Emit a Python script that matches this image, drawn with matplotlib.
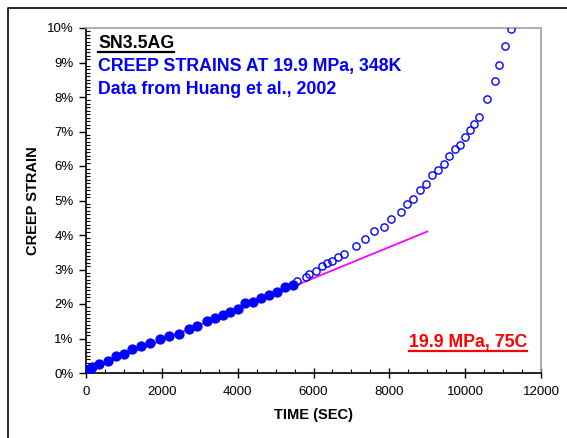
import matplotlib
matplotlib.use("Agg")
import matplotlib.pyplot as plt
from matplotlib.ticker import MultipleLocator, PercentFormatter
from matplotlib.lines import Line2D
import numpy as np

plt.rcParams['font.family'] = ['Liberation Sans', 'DejaVu Sans']

# creep data (time in sec, strain in %)
t_filled = [0, 50, 100, 150, 343, 572, 783, 1010, 1214, 1442, 1696, 1960, 2197,
            2453, 2708, 2919, 3182, 3402, 3613, 3805, 4017, 4201, 4412, 4623,
            4826, 5028, 5239, 5450]
s_filled = [0.0, 0.08, 0.13, 0.18, 0.26, 0.36, 0.49, 0.56, 0.69, 0.79, 0.88, 0.98,
            1.06, 1.12, 1.28, 1.37, 1.50, 1.59, 1.68, 1.76, 1.86, 2.04, 2.07, 2.16,
            2.25, 2.36, 2.48, 2.55]
t_open = [5557, 5802, 5881, 6066, 6216, 6348, 6496, 6655, 6797, 7129, 7367, 7604,
          7860, 8044, 8300, 8466, 8633, 8800, 8958, 9130, 9289, 9447, 9579, 9737,
          9853, 10001, 10133, 10233, 10356, 10575, 10795, 10901, 11060, 11200]
s_open = [2.67, 2.77, 2.88, 2.95, 3.10, 3.18, 3.26, 3.35, 3.44, 3.67, 3.87, 4.11,
          4.23, 4.47, 4.67, 4.91, 5.04, 5.30, 5.48, 5.74, 5.88, 6.05, 6.29, 6.48,
          6.62, 6.85, 7.05, 7.23, 7.42, 7.94, 8.46, 8.93, 9.49, 9.98]
# secondary creep fit line
t_fit = [0, 9000]
s_fit = [0.05, 4.1]

fig = plt.figure(figsize=(5.67, 4.38), dpi=100)
ax = fig.add_axes([86/567, 65/438, 455/567, 345/438])

ax.plot(t_fit, s_fit, color='#ff00ff', lw=1.3, zorder=2)
ax.plot(t_filled, s_filled, 'o', color='#0000ff', ms=6.4, mec='#0000ff', zorder=3)
ax.plot(t_open, s_open, 'o', mfc='none', mec='#0000ff', ms=5.2, mew=1.0, zorder=3)

ax.set_xlim(0, 12000)
ax.set_ylim(0, 10)
ax.xaxis.set_major_locator(MultipleLocator(2000))
ax.xaxis.set_minor_locator(MultipleLocator(500))
ax.yaxis.set_major_locator(MultipleLocator(1))
ax.yaxis.set_minor_locator(MultipleLocator(0.1))
ax.yaxis.set_major_formatter(PercentFormatter(decimals=0))
ax.tick_params(which='major', direction='inout', length=7, width=1, labelsize=9.5, pad=6)
ax.tick_params(which='minor', direction='in', length=3, width=0.8)
ax.tick_params(axis='y', which='major', direction='out', length=5, pad=4)

for side in ['top', 'right']:
    ax.spines[side].set_color('#a0a0a0')
    ax.spines[side].set_linewidth(1.2)
for side in ['left', 'bottom']:
    ax.spines[side].set_linewidth(1.2)

ax.set_xlabel('TIME (SEC)', fontsize=10.5, fontweight='bold', labelpad=7)
ax.set_ylabel('CREEP STRAIN', fontsize=10.5, fontweight='bold', labelpad=5)

fs = 12.8
t1 = fig.text(98/567, 1 - 44/438, 'SN3.5AG', fontsize=fs, fontweight='bold', va='center')
fig.text(98/567, 1 - 67/438, 'CREEP STRAINS AT 19.9 MPa, 348K', fontsize=fs,
         fontweight='bold', color='#0000ff', va='center')
fig.text(98/567, 1 - 89/438, 'Data from Huang et al., 2002', fontsize=fs,
         fontweight='bold', color='#0000ff', va='center')
t2 = fig.text(527/567, 1 - 343/438, '19.9 MPa, 75C', fontsize=fs, fontweight='bold',
              color='#ff0000', ha='right', va='center')

# underline the two labels
fig.canvas.draw()
r = fig.canvas.get_renderer()
for t, c in [(t1, 'black'), (t2, '#ff0000')]:
    bb = t.get_window_extent(r).transformed(fig.transFigure.inverted())
    fig.add_artist(Line2D([bb.x0, bb.x1], [bb.y0 + 0.001, bb.y0 + 0.001],
                          transform=fig.transFigure, color=c, lw=1.6))

# outer chart border, cut off at right and bottom
fig.add_artist(Line2D([8/567, 8/567, 1.05], [-0.05, 1 - 8/438, 1 - 8/438],
                      transform=fig.transFigure, color='black', lw=1.2))

fig.savefig('out.png', dpi=100)
